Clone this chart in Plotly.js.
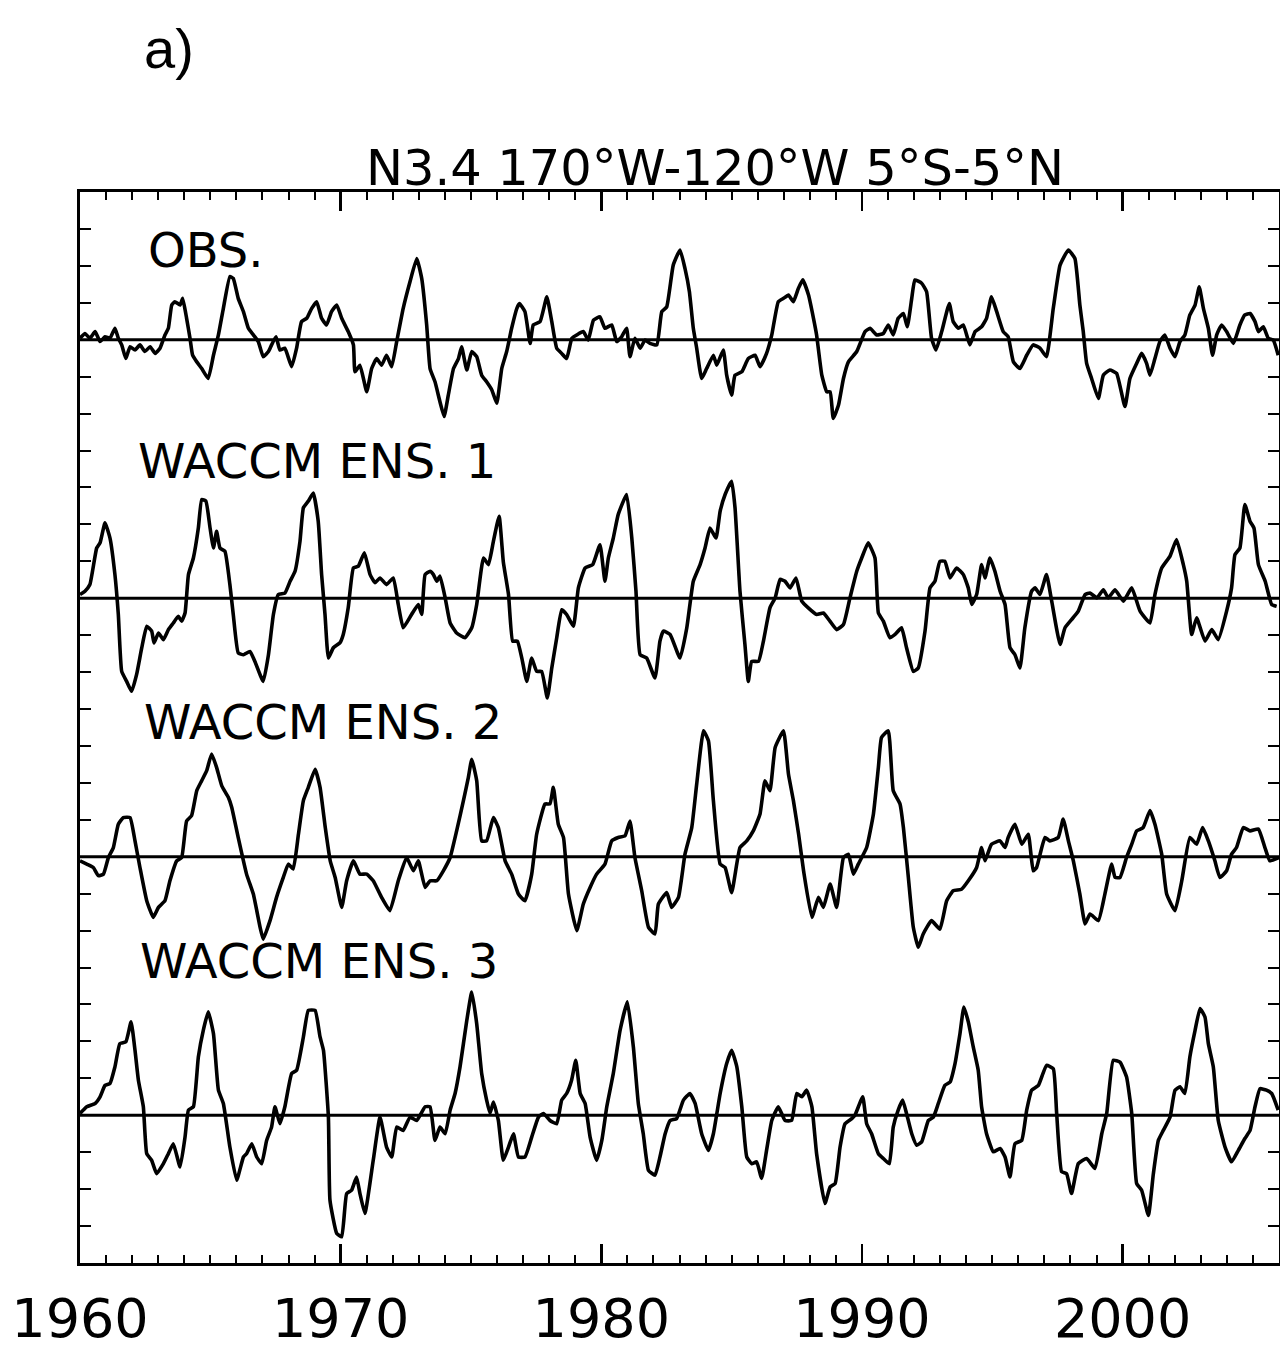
<!DOCTYPE html>
<html>
<head>
<meta charset="utf-8">
<script src="https://cdn.plot.ly/plotly-3.0.1.min.js"></script>
<style>
  html, body { margin: 0; padding: 0; background: #ffffff; }
  #chart { width: 1280px; height: 1349px; }
</style>
</head>
<body>
<div id="chart"></div>
<script>
// ---------- DATA (anomalies in deg C) ----------
const seriesNames = ["OBS.", "WACCM ENS. 1", "WACCM ENS. 2", "WACCM ENS. 3"];
const chartTitle = "N3.4 170°W-120°W 5°S-5°N";
const panelTag = "a)";
const xTickValues = [1960, 1970, 1980, 1990, 2000];
const xTickLabels = ["1960", "1970", "1980", "1990", "2000"];

const obsYears = [1960.00,1960.19,1960.38,1960.58,1960.77,1960.96,1961.15,1961.34,1961.47,1961.60,1961.76,1961.92,1962.11,1962.30,1962.49,1962.69,1962.88,1963.07,1963.26,1963.39,1963.52,1963.64,1963.84,1963.94,1964.09,1964.22,1964.32,1964.48,1964.67,1964.92,1965.12,1965.31,1965.50,1965.75,1965.88,1966.07,1966.27,1966.46,1966.65,1966.84,1967.03,1967.23,1967.35,1967.52,1967.67,1967.86,1968.12,1968.31,1968.50,1968.70,1968.89,1969.08,1969.27,1969.46,1969.65,1969.85,1970.04,1970.29,1970.49,1970.55,1970.74,1971.00,1971.19,1971.38,1971.57,1971.76,1971.96,1972.15,1972.40,1972.66,1972.92,1973.11,1973.30,
1973.43,1973.62,1973.81,1973.97,1974.13,1974.33,1974.52,1974.64,1974.84,1975.03,1975.22,1975.41,1975.60,1975.80,1975.99,1976.18,1976.37,1976.56,1976.76,1976.86,1977.07,1977.27,1977.39,1977.65,1977.91,1978.10,1978.29,1978.48,1978.67,1978.87,1979.06,1979.31,1979.50,1979.70,1979.95,1980.14,1980.40,1980.59,1980.78,1980.97,1981.10,1981.29,1981.49,1981.68,1981.87,1982.13,1982.32,1982.51,1982.76,1983.02,1983.21,1983.38,1983.53,1983.66,1983.85,1984.04,1984.30,1984.43,1984.68,1984.81,1985.00,1985.13,1985.39,1985.64,1985.90,1986.09,1986.34,1986.54,1986.79,1986.99,1987.18,1987.37,1987.56,1987.73,1987.95,1988.14,1988.26,1988.46,1988.65,1988.78,1988.90,1989.10,1989.29,1989.48,
1989.80,1990.12,1990.31,1990.56,1990.82,1991.01,1991.20,1991.39,1991.59,1991.74,1991.91,1992.03,1992.29,1992.48,1992.67,1992.84,1993.06,1993.35,1993.50,1993.70,1993.89,1994.14,1994.34,1994.59,1994.78,1994.97,1995.17,1995.42,1995.61,1995.81,1996.06,1996.32,1996.57,1996.83,1997.08,1997.34,1997.60,1997.92,1998.17,1998.36,1998.49,1998.62,1998.81,1999.07,1999.26,1999.51,1999.77,2000.09,2000.28,2000.54,2000.73,2000.92,2001.05,2001.24,2001.43,2001.62,2001.82,2002.01,2002.20,2002.39,2002.58,2002.78,2002.94,2003.10,2003.29,2003.45,2003.61,2003.80,2003.99,2004.25,2004.50,2004.69,2004.89,2005.08,2005.21,2005.40,2005.59,2005.78,2005.97];
const obsValues = [0.04,0.17,0.04,0.22,-0.05,0.08,0.04,0.31,0.04,-0.14,-0.51,-0.19,-0.28,-0.14,-0.32,-0.19,-0.37,-0.23,0.13,0.31,0.94,1.03,0.94,1.12,0.58,0.04,-0.42,-0.60,-0.78,-1.05,-0.42,0.13,0.85,1.71,1.66,1.12,0.76,0.31,0.13,-0.05,-0.46,-0.32,-0.14,0.08,-0.28,-0.23,-0.73,-0.23,0.49,0.58,0.85,1.03,0.58,0.40,0.76,0.94,0.58,0.22,-0.14,-0.87,-0.69,-1.41,-0.78,-0.51,-0.69,-0.42,-0.73,-0.05,0.85,1.57,2.20,1.66,0.40,
-0.78,-1.14,-1.68,-2.08,-1.50,-0.78,-0.51,-0.19,-0.82,-0.32,-0.46,-0.96,-1.14,-1.36,-1.72,-0.78,-0.32,0.31,0.85,0.98,0.76,-0.10,0.40,0.49,1.16,0.49,-0.23,-0.37,-0.51,0.04,0.13,0.22,-0.01,0.53,0.62,0.31,0.40,-0.05,0.08,0.31,-0.46,0.04,-0.23,-0.01,-0.10,-0.14,0.76,0.89,2.02,2.43,1.93,1.30,0.31,-0.23,-1.05,-0.78,-0.42,-0.69,-0.28,-0.96,-1.50,-0.96,-0.87,-0.51,-0.42,-0.73,-0.37,0.13,1.03,1.12,1.21,1.03,1.39,1.62,1.21,0.58,0.13,-0.96,-1.41,-1.41,-2.13,-1.77,-1.05,-0.60,
-0.32,0.22,0.31,0.13,0.17,0.40,0.13,0.58,0.71,0.35,1.12,1.62,1.53,1.30,0.04,-0.28,0.22,0.98,0.49,0.31,0.40,-0.14,0.22,0.35,0.58,1.16,0.76,0.22,0.08,-0.60,-0.78,-0.42,-0.14,-0.23,-0.46,0.85,2.02,2.43,2.20,0.94,0.22,-0.64,-1.05,-1.59,-0.96,-0.82,-0.91,-1.81,-1.05,-0.64,-0.37,-0.64,-0.96,-0.51,-0.05,0.13,-0.23,-0.46,-0.05,0.13,0.67,0.94,1.43,0.85,0.31,-0.42,0.13,0.40,0.22,-0.10,0.40,0.67,0.71,0.49,0.22,0.35,0.04,-0.01,-0.42];

const ens1Years = [1960.00,1960.19,1960.38,1960.64,1960.77,1960.96,1961.15,1961.34,1961.47,1961.60,1961.79,1961.98,1962.17,1962.37,1962.56,1962.75,1962.84,1963.01,1963.20,1963.39,1963.58,1963.77,1963.90,1964.03,1964.16,1964.35,1964.54,1964.67,1964.83,1964.99,1965.12,1965.24,1965.37,1965.56,1965.75,1965.88,1966.07,1966.27,1966.52,1966.71,1967.03,1967.23,1967.42,1967.61,1967.86,1968.06,1968.25,1968.44,1968.57,1968.76,1968.95,1969.14,1969.27,1969.40,1969.53,1969.72,1969.97,1970.10,1970.29,1970.49,1970.68,1970.91,1971.13,1971.32,1971.51,1971.76,1972.02,1972.21,1972.40,1972.72,1972.98,1973.11,1973.24,
1973.43,1973.56,1973.69,1973.81,1974.01,1974.20,1974.45,1974.77,1975.03,1975.22,1975.48,1975.67,1975.86,1976.08,1976.24,1976.44,1976.60,1976.78,1976.95,1977.14,1977.33,1977.52,1977.71,1977.93,1978.10,1978.29,1978.48,1978.67,1978.93,1979.12,1979.38,1979.67,1979.95,1980.14,1980.27,1980.46,1980.65,1980.97,1981.17,1981.33,1981.49,1981.74,1982.06,1982.25,1982.38,1982.64,1983.02,1983.28,1983.53,1983.79,1983.98,1984.17,1984.40,1984.56,1984.75,1985.00,1985.13,1985.32,1985.51,1985.64,1985.77,1986.03,1986.22,1986.47,1986.67,1986.86,1987.05,1987.24,1987.47,1987.69,1987.94,1988.26,1988.52,1988.77,1989.03,1989.29,
1989.54,1989.80,1989.99,1990.24,1990.50,1990.63,1990.82,1991.07,1991.27,1991.52,1991.71,1991.97,1992.16,1992.42,1992.61,1992.80,1992.99,1993.18,1993.38,1993.63,1993.89,1994.08,1994.21,1994.40,1994.59,1994.72,1994.91,1995.10,1995.30,1995.49,1995.68,1995.87,1996.06,1996.25,1996.51,1996.64,1996.83,1997.08,1997.28,1997.60,1997.79,1998.04,1998.30,1998.56,1998.75,1999.01,1999.26,1999.45,1999.71,2000.03,2000.35,2000.67,2001.05,2001.24,2001.50,2001.82,2002.07,2002.33,2002.46,2002.65,2002.84,2003.16,2003.42,2003.67,2003.99,2004.18,2004.31,2004.50,2004.69,2004.89,2005.04,2005.21,2005.47,2005.72,2005.91];
const ens1Values = [0.10,0.19,0.37,1.36,1.50,2.04,1.63,0.64,-0.44,-1.98,-2.25,-2.52,-2.07,-1.34,-0.76,-0.89,-1.21,-0.94,-1.12,-0.85,-0.67,-0.49,-0.62,-0.40,0.64,1.09,1.90,2.67,2.63,1.90,1.36,1.81,1.36,1.27,0.37,-0.44,-1.48,-1.53,-1.44,-1.71,-2.25,-1.53,-0.44,0.10,0.14,0.46,0.73,1.54,2.45,2.63,2.85,2.08,0.64,-0.44,-1.62,-1.34,-1.21,-0.98,-0.26,0.82,0.87,1.23,0.64,0.42,0.55,0.37,0.55,-0.17,-0.80,-0.44,-0.17,-0.44,0.64,
0.73,0.64,0.46,0.60,0.01,-0.67,-0.94,-1.07,-0.80,-0.17,1.09,0.91,1.54,2.22,0.99,0.10,-1.16,-1.16,-1.62,-2.25,-1.62,-1.98,-1.98,-2.70,-1.89,-1.07,-0.31,-0.44,-0.76,0.28,0.82,0.91,1.45,0.46,1.09,1.63,2.27,2.81,1.63,0.19,-1.53,-1.62,-2.16,-1.16,-0.89,-0.98,-1.62,-0.80,0.46,0.91,1.36,1.90,1.63,2.36,2.81,3.17,2.45,0.19,-1.25,-2.25,-1.71,-1.71,-1.16,-0.26,0.01,0.51,0.46,0.28,0.55,-0.08,-0.26,-0.44,-0.40,-0.62,-0.85,-0.71,
0.01,0.73,1.09,1.50,1.09,-0.40,-0.62,-1.07,-0.98,-0.80,-1.34,-1.98,-1.89,-0.89,0.28,0.46,1.00,1.00,0.55,0.82,0.64,0.28,-0.17,0.10,0.91,0.55,1.09,0.73,0.19,-0.17,-1.34,-1.53,-1.89,-0.80,0.19,0.28,0.10,0.64,-0.08,-1.25,-0.80,-0.58,-0.35,0.10,0.14,0.01,0.23,0.01,0.23,-0.08,0.28,-0.35,-0.67,0.10,0.82,1.14,1.59,0.91,0.46,-0.98,-0.53,-1.16,-0.85,-1.12,-0.35,0.28,1.18,1.36,2.54,2.08,1.90,0.91,0.46,-0.17,-0.22];

const ens2Years = [1960.00,1960.26,1960.51,1960.70,1960.90,1961.09,1961.28,1961.47,1961.66,1961.92,1962.11,1962.30,1962.56,1962.81,1963.01,1963.26,1963.45,1963.71,1963.90,1964.09,1964.28,1964.48,1964.67,1964.86,1965.05,1965.24,1965.44,1965.69,1965.82,1966.07,1966.39,1966.65,1966.91,1967.03,1967.29,1967.54,1967.80,1967.99,1968.18,1968.38,1968.57,1968.76,1969.02,1969.21,1969.41,1969.60,1969.79,1970.04,1970.23,1970.49,1970.74,1971.00,1971.25,1971.57,1971.89,1972.21,1972.53,1972.79,1972.98,1973.24,
1973.43,1973.69,1973.94,1974.20,1974.45,1974.71,1974.90,1975.03,1975.22,1975.41,1975.60,1975.86,1976.05,1976.31,1976.56,1976.82,1977.07,1977.33,1977.52,1977.84,1978.03,1978.16,1978.35,1978.55,1978.74,1979.06,1979.31,1979.57,1979.82,1980.14,1980.40,1980.65,1980.91,1981.10,1981.29,1981.55,1981.81,1982.06,1982.19,1982.51,1982.70,1982.96,1983.21,1983.47,1983.66,1983.92,1984.11,1984.30,1984.56,1984.75,1985.00,1985.32,1985.58,1985.83,1986.09,1986.28,1986.47,1986.67,1986.99,1987.18,1987.37,1987.57,1987.76,1988.08,1988.33,1988.52,1988.78,1989.03,1989.29,1989.48,
1989.67,1989.86,1990.18,1990.44,1990.63,1990.75,1991.01,1991.20,1991.46,1991.59,1991.78,1991.97,1992.16,1992.35,1992.67,1992.99,1993.25,1993.50,1993.82,1994.08,1994.40,1994.59,1994.72,1994.97,1995.30,1995.49,1995.61,1995.87,1996.13,1996.38,1996.57,1996.70,1997.02,1997.21,1997.53,1997.72,1997.92,1998.11,1998.36,1998.56,1998.75,1999.07,1999.32,1999.58,1999.71,1999.90,2000.15,2000.35,2000.54,2000.79,2001.05,2001.24,2001.50,2001.69,2002.01,2002.27,2002.58,2002.84,2003.07,2003.29,2003.54,2003.73,2003.99,2004.18,2004.37,2004.63,2004.89,2005.21,2005.46,2005.65,2006.00];
const ens2Values = [-0.11,-0.20,-0.29,-0.51,-0.47,-0.02,0.25,0.88,1.06,1.06,0.43,-0.29,-1.19,-1.64,-1.37,-1.19,-0.65,-0.11,-0.02,0.97,1.11,1.79,2.06,2.33,2.78,2.42,1.92,1.61,1.34,0.52,-0.47,-1.01,-1.91,-2.23,-1.73,-1.10,-0.56,-0.20,-0.33,0.61,1.52,1.88,2.37,1.88,0.79,-0.11,-0.56,-1.37,-0.65,-0.11,-0.47,-0.47,-0.65,-1.10,-1.46,-0.65,-0.02,-0.38,-0.11,-0.83,
-0.65,-0.65,-0.38,-0.02,0.70,1.52,2.15,2.64,2.06,0.43,0.43,1.06,0.79,-0.11,-0.47,-1.01,-1.19,-0.47,0.61,1.43,1.43,1.88,0.88,0.52,-1.01,-2.00,-1.28,-0.83,-0.47,-0.20,0.43,0.52,0.57,0.97,-0.02,-0.92,-1.91,-2.09,-1.28,-0.97,-1.37,-1.10,0.07,0.79,1.97,3.41,3.14,1.52,-0.20,-0.29,-0.97,0.25,0.43,0.70,1.16,2.06,1.79,2.96,3.41,2.24,1.52,0.61,-0.38,-1.64,-1.10,-1.37,-0.74,-1.37,-0.02,0.07,
-0.47,-0.20,0.25,1.16,2.42,3.23,3.41,1.79,1.43,0.79,-0.56,-1.91,-2.45,-2.09,-1.73,-1.96,-1.19,-0.92,-0.88,-0.65,-0.29,0.25,-0.11,0.34,0.43,0.25,0.52,0.88,0.34,0.61,-0.38,-0.29,0.52,0.43,0.52,1.02,0.43,-0.11,-1.01,-1.82,-1.55,-1.73,-1.01,-0.20,-0.56,-0.56,-0.02,0.34,0.70,0.79,1.25,0.88,0.07,-1.01,-1.46,-0.65,0.52,0.34,0.79,0.43,-0.11,-0.56,-0.38,0.07,0.25,0.79,0.70,0.75,0.25,-0.11,-0.02];

const ens3Years = [1960.00,1960.26,1960.58,1960.77,1960.96,1961.15,1961.34,1961.53,1961.76,1961.96,1962.11,1962.24,1962.43,1962.56,1962.75,1962.94,1963.20,1963.39,1963.58,1963.84,1964.03,1964.16,1964.35,1964.54,1964.73,1964.92,1965.12,1965.31,1965.50,1965.75,1966.01,1966.27,1966.39,1966.59,1966.78,1966.97,1967.16,1967.35,1967.48,1967.67,1967.86,1968.12,1968.31,1968.57,1968.76,1969.02,1969.21,1969.34,1969.53,1969.59,1969.85,1970.04,1970.23,1970.42,1970.61,1970.74,1970.93,1971.25,1971.51,1971.76,1971.96,1972.15,1972.40,1972.66,1972.92,1973.24,
1973.43,1973.62,1973.81,1974.01,1974.20,1974.39,1974.58,1974.84,1975.03,1975.22,1975.41,1975.60,1975.73,1975.86,1976.05,1976.24,1976.44,1976.63,1976.82,1977.07,1977.33,1977.59,1977.78,1978.03,1978.29,1978.48,1978.67,1978.86,1979.02,1979.19,1979.38,1979.57,1979.82,1980.02,1980.21,1980.46,1980.72,1981.00,1981.23,1981.42,1981.61,1981.81,1982.06,1982.25,1982.45,1982.64,1982.89,1983.15,1983.40,1983.60,1983.85,1984.11,1984.30,1984.56,1984.81,1985.00,1985.20,1985.39,1985.58,1985.77,1985.96,1986.15,1986.34,1986.54,1986.79,1987.05,1987.30,1987.50,1987.69,1987.88,1988.08,1988.26,1988.58,1988.78,1988.97,1989.16,1989.35,1989.61,
1989.73,1990.03,1990.18,1990.37,1990.63,1990.82,1991.05,1991.20,1991.39,1991.56,1991.71,1991.91,1992.10,1992.29,1992.55,1992.74,1992.93,1993.18,1993.38,1993.57,1993.76,1993.91,1994.08,1994.27,1994.46,1994.59,1994.78,1995.04,1995.30,1995.49,1995.68,1995.87,1996.13,1996.32,1996.51,1996.77,1997.08,1997.34,1997.47,1997.66,1997.85,1998.04,1998.30,1998.62,1998.94,1999.20,1999.39,1999.64,1999.90,2000.15,2000.35,2000.54,2000.73,2000.99,2001.18,2001.37,2001.56,2001.82,2002.01,2002.20,2002.39,2002.58,2002.78,2002.97,2003.16,2003.29,2003.48,2003.67,2003.93,2004.18,2004.44,2004.69,2004.89,2005.08,2005.27,2005.52,2005.72,2005.97];
const ens3Values = [0.05,0.23,0.32,0.50,0.81,0.86,1.31,1.94,1.99,2.53,1.76,0.95,0.23,-1.04,-1.22,-1.58,-1.31,-1.04,-0.77,-1.40,-0.59,0.14,0.23,1.58,2.30,2.80,2.21,0.68,0.32,-0.86,-1.76,-1.13,-1.04,-0.77,-1.13,-1.31,-0.68,-0.32,0.23,-0.23,0.23,1.13,1.22,2.12,2.84,2.84,2.12,1.76,-0.05,-2.30,-3.20,-3.29,-2.12,-2.03,-1.67,-2.12,-2.66,-1.22,-0.05,-0.86,-1.13,-0.32,-0.41,-0.05,-0.14,0.23,
0.23,-0.68,-0.32,-0.50,0.14,0.59,1.31,2.57,3.34,2.48,1.13,0.41,0.05,0.36,-0.14,-1.22,-0.86,-0.50,-1.13,-1.13,-0.59,-0.05,0.05,-0.14,-0.23,0.41,0.59,0.95,1.49,0.59,0.32,-0.59,-1.22,-0.68,0.23,1.13,2.30,3.07,1.85,0.32,-0.50,-1.49,-1.62,-1.13,-0.50,-0.14,-0.09,0.41,0.59,0.32,-0.50,-0.95,-0.50,0.59,1.40,1.76,1.31,0.23,-1.13,-1.31,-1.26,-1.71,-0.95,-0.14,0.23,-0.14,-0.14,0.59,0.50,0.68,0.23,-1.04,-2.39,-1.94,-1.85,-0.86,-0.23,-0.09,
0.00,0.50,-0.23,-0.50,-1.04,-1.17,-1.31,-0.32,0.14,0.41,0.05,-0.50,-0.81,-0.72,-0.14,-0.05,0.32,0.81,0.90,1.40,2.21,2.93,2.53,1.85,1.22,0.23,-0.50,-0.99,-0.90,-1.13,-1.67,-0.77,-0.68,0.14,0.68,0.81,1.35,1.26,0.05,-1.53,-1.58,-2.12,-1.31,-1.17,-1.44,-0.50,0.05,1.49,1.44,1.04,0.05,-1.85,-2.03,-2.71,-1.58,-0.68,-0.41,-0.05,0.68,0.77,0.59,1.58,2.30,2.89,2.66,1.94,1.31,-0.14,-0.86,-1.26,-0.95,-0.63,-0.41,0.23,0.72,0.68,0.59,0.14];

// ---------- LAYOUT / STYLE ----------
const seriesYears = [obsYears, ens1Years, ens2Years, ens3Years];
const seriesValues = [obsValues, ens1Values, ens2Values, ens3Values];
const stackOffsets = [25, 18, 11, 4];        // vertical offset of each panel (axis units = 1 deg C)
const labelX = [1962.55, 1962.13, 1962.36, 1962.24];
const labelY = [27.43, 21.72, 14.65, 8.18];
const FONT = "DejaVu Sans, Verdana, sans-serif";

const traces = seriesValues.map((vals, i) => ({
  type: "scatter",
  mode: "lines",
  x: seriesYears[i],
  y: vals.map(v => v + stackOffsets[i]),
  line: { color: "#000000", width: 3.6, shape: "spline", smoothing: 0.4 },
  name: seriesNames[i],
  hoverinfo: "skip"
}));

const shapes = stackOffsets.map(off => ({
  type: "line", xref: "paper", x0: 0, x1: 1, yref: "y", y0: off, y1: off,
  line: { color: "#000000", width: 3 }, layer: "above"
}));

const annotations = seriesNames.map((name, i) => ({
  text: name, x: labelX[i], y: labelY[i], xref: "x", yref: "y",
  xanchor: "left", yanchor: "middle", showarrow: false,
  font: { family: FONT, size: 48, color: "#000000" }
}));
annotations.push({
  text: panelTag, xref: "paper", yref: "paper",
  x: (169 - 80) / 1199, y: 1 + (192 - 48) / 1071,
  xanchor: "center", yanchor: "middle", showarrow: false,
  font: { family: "Liberation Sans, Arial, sans-serif", size: 56, color: "#000000" }
});

const layout = {
  width: 1280, height: 1349,
  margin: { l: 80, r: 1, t: 192, b: 86, pad: 0 },
  paper_bgcolor: "#ffffff", plot_bgcolor: "#ffffff",
  showlegend: false,
  title: {
    text: chartTitle,
    font: { family: FONT, size: 49.5, color: "#000000" },
    xref: "container", x: 715 / 1280, xanchor: "center",
    yref: "container", y: 1 - 168 / 1349, yanchor: "middle"
  },
  xaxis: {
    range: [1960, 2006],
    tickmode: "array", tickvals: xTickValues, ticktext: xTickLabels,
    ticks: "inside", ticklen: 19, tickwidth: 2.5, tickcolor: "#000000",
    showline: true, linewidth: 3, linecolor: "#000000", mirror: "ticks",
    showgrid: false, zeroline: false,
    tickfont: { family: FONT, size: 54, color: "#000000" },
    ticklabelstandoff: 6,
    minor: { tickmode: "linear", tick0: 1960, dtick: 1, ticks: "inside", ticklen: 8, tickwidth: 2, tickcolor: "#000000", showgrid: false }
  },
  yaxis: {
    range: [0, 29],
    tickmode: "linear", tick0: 0, dtick: 1,
    ticks: "inside", ticklen: 11, tickwidth: 2, tickcolor: "#000000",
    showticklabels: false,
    showline: true, linewidth: 3, linecolor: "#000000", mirror: "ticks",
    showgrid: false, zeroline: false
  },
  shapes: shapes,
  annotations: annotations
};

Plotly.newPlot("chart", traces, layout, { staticPlot: true, displayModeBar: false });
</script>
</body>
</html>
